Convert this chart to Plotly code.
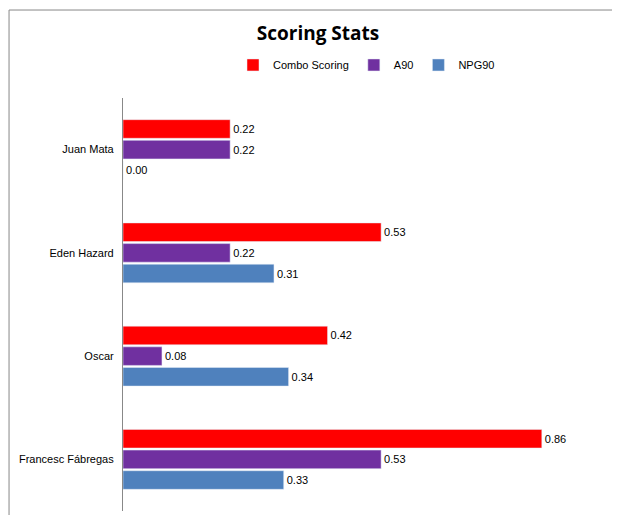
import plotly.graph_objects as go

players = ["Juan Mata", "Eden Hazard", "Oscar", "Francesc Fábregas"]
combo = [0.22, 0.53, 0.42, 0.86]
a90 = [0.22, 0.22, 0.08, 0.53]
npg90 = [0.00, 0.31, 0.34, 0.33]

series = [("Combo Scoring", combo, "#FF0000"),
          ("A90", a90, "#7030A0"),
          ("NPG90", npg90, "#4F81BD")]

fig = go.Figure()
for name, vals, col in series:
    fig.add_trace(go.Bar(
        y=players, x=vals, name=name, orientation="h",
        marker_color=col, text=[f"{v:.2f}" for v in vals],
        textposition="outside", textfont=dict(size=11, color="#000"),
        cliponaxis=False,
    ))

fig.update_layout(
    width=620, height=515,
    barmode="group", bargap=0.4, bargroupgap=0.1,
    font=dict(family="Liberation Sans, Arial", size=11, color="#000"),
    title=dict(text="<b>Scoring Stats</b>", x=0.5, y=0.951, xanchor="center", yanchor="middle",
               font=dict(size=19, family="Open Sans, Arial")),
    legend=dict(orientation="h", x=0.5, xanchor="center", y=1.08, yanchor="middle",
                font=dict(size=11), itemwidth=30),
    paper_bgcolor="white", plot_bgcolor="white",
    margin=dict(l=115, r=18, t=90, b=12),
    showlegend=True,
)
fig.update_xaxes(range=[0, 1.0], visible=False)
fig.update_yaxes(autorange="reversed", showline=True, linecolor="#888",
                 ticks="", ticklen=0, showgrid=False, ticksuffix="  ")
fig.add_shape(type="rect", xref="paper", yref="paper", x0=-0.234, x1=1.033,
              y0=-0.025, y1=1.213, line=dict(color="#888", width=1))
fig.write_html("out.html")
